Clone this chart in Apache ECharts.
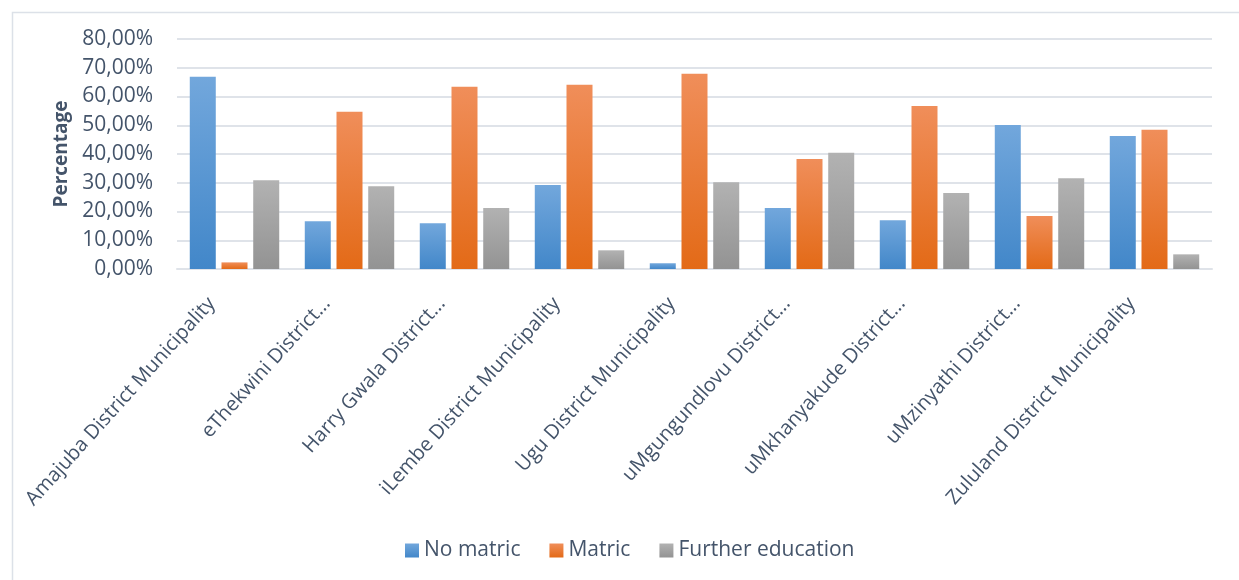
<!DOCTYPE html>
<html>
<head>
<meta charset="utf-8">
<script src="https://cdn.jsdelivr.net/npm/echarts@6/dist/echarts.min.js"></script>
<style>
  html, body { margin: 0; padding: 0; background: #ffffff; }
  #chart { width: 1239px; height: 580px; }
</style>
</head>
<body>
<div id="chart"></div>
<script>
// District names as shown on the category axis
const districts = [
  'Amajuba District Municipality',
  'eThekwini District...',
  'Harry Gwala District...',
  'iLembe District Municipality',
  'Ugu District Municipality',
  'uMgungundlovu District...',
  'uMkhanyakude District...',
  'uMzinyathi District...',
  'Zululand District Municipality'
];

// Share of each education level per district (percent)
const noMatric = [66.9, 16.6, 15.9, 29.2, 2.0, 21.2, 17.0, 50.1, 46.3];
const matric = [2.3, 54.7, 63.4, 64.1, 67.9, 38.3, 56.7, 18.4, 48.4];
const furtherEducation = [30.9, 28.8, 21.2, 6.5, 30.2, 40.4, 26.4, 31.6, 5.1];

const seriesNames = ['No matric', 'Matric', 'Further education'];

const FONT = '"Open Sans", "Noto Sans", sans-serif';
const TEXT = '#44546A';
const GRID = '#DFE3E9';

function vGrad(top, bottom) {
  return new echarts.graphic.LinearGradient(0, 0, 0, 1, [
    { offset: 0, color: top },
    { offset: 1, color: bottom }
  ]);
}

const fills = [
  vGrad('#72A7DC', '#4287C9'),
  vGrad('#F08E5A', '#E36A17'),
  vGrad('#B2B2B2', '#939393')
];

function barSeries(name, data, fill) {
  return {
    name: name,
    type: 'bar',
    data: data,
    barWidth: 26,
    barGap: '22%',
    itemStyle: { color: fill },
    emphasis: { disabled: true }
  };
}

const chart = echarts.init(document.getElementById('chart'), null, { renderer: 'canvas' });

chart.setOption({
  animation: false,
  backgroundColor: '#ffffff',
  textStyle: { fontFamily: FONT },
  graphic: [{
    type: 'rect',
    left: 10,
    top: 10,
    shape: { width: 1300, height: 620 },
    style: { fill: 'none', stroke: '#DCE1E8', lineWidth: 1.5 },
    silent: true,
    z: -1
  }],
  grid: { left: 177, right: 27, top: 39, bottom: 311, containLabel: false },
  legend: {
    data: seriesNames,
    bottom: 14,
    left: 400,
    itemWidth: 14,
    itemHeight: 14,
    itemGap: 29,
    icon: 'rect',
    textStyle: { color: TEXT, fontSize: 21, fontFamily: FONT }
  },
  xAxis: {
    type: 'category',
    data: districts,
    axisLine: { show: true, lineStyle: { color: GRID, width: 2 } },
    axisTick: { show: false },
    axisLabel: {
      interval: 0,
      rotate: 48,
      margin: 6,
      padding: [0, 34, 0, 0],
      color: TEXT,
      fontSize: 20,
      fontFamily: FONT
    }
  },
  yAxis: {
    type: 'value',
    min: 0,
    max: 80,
    interval: 10,
    name: 'Percentage',
    nameLocation: 'middle',
    nameGap: 106,
    nameTextStyle: { color: TEXT, fontSize: 19, fontWeight: 'bold', fontFamily: FONT },
    axisLine: { show: false },
    axisTick: { show: false },
    splitLine: { lineStyle: { color: GRID, width: 2 } },
    axisLabel: {
      margin: 24,
      color: TEXT,
      fontSize: 21,
      fontFamily: FONT,
      formatter: function (v) { return v.toFixed(2).replace('.', ',') + '%'; }
    }
  },
  series: [
    barSeries(seriesNames[0], noMatric, fills[0]),
    barSeries(seriesNames[1], matric, fills[1]),
    barSeries(seriesNames[2], furtherEducation, fills[2])
  ]
});
</script>
</body>
</html>
